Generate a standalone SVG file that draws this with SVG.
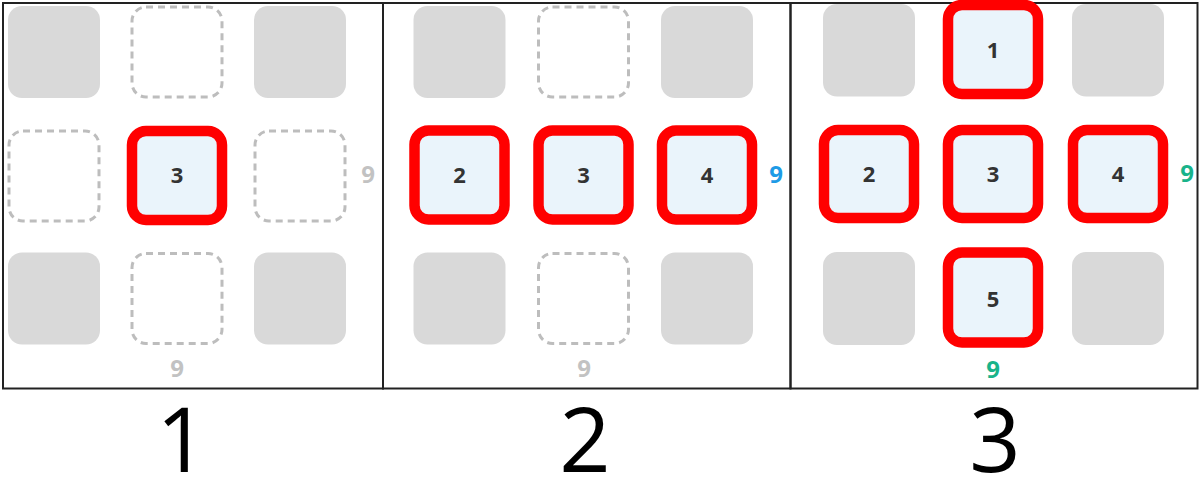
<svg xmlns="http://www.w3.org/2000/svg" width="1200" height="477" viewBox="0 0 1200 477">
<style>
.g{fill:#d9d9d9}
.d{fill:#fff;stroke:#bdbdbd;stroke-width:3;stroke-dasharray:7 5}
.s{fill:#eaf4fb;stroke:#ff0000;stroke-width:10.5}
.n{font-family:"Open Sans","Noto Sans",sans-serif;font-weight:700;font-size:22px;fill:#333;text-anchor:middle}
.c{font-family:"Open Sans","Noto Sans",sans-serif;font-weight:700;font-size:24px;text-anchor:middle}
.big{font-family:"Open Sans","Noto Sans",sans-serif;font-size:90px;fill:#000;text-anchor:middle}
.frame{fill:none;stroke:#222;stroke-width:2}
</style>
<rect width="1200" height="477" fill="#fff"/>
<g id="frames">
<rect class="frame" x="3" y="3" width="380" height="385.5"/>
<rect class="frame" x="383" y="3" width="407.5" height="385.5"/>
<rect class="frame" x="790.5" y="3" width="407" height="385.5"/>
</g>
<g id="panel1">
<rect class="g" x="8" y="6" width="92" height="92" rx="14"/>
<rect class="d" x="132" y="7" width="90" height="90" rx="14"/>
<rect class="g" x="254" y="6" width="92" height="92" rx="14"/>
<rect class="d" x="9" y="131" width="90" height="90" rx="14"/>
<rect class="s" x="132" y="131" width="90" height="89" rx="14"/>
<text class="n" x="177" y="183.3">3</text>
<rect class="d" x="255" y="131" width="90" height="90" rx="14"/>
<rect class="g" x="8" y="252.5" width="92" height="92" rx="14"/>
<rect class="d" x="132" y="253.5" width="90" height="90" rx="14"/>
<rect class="g" x="254" y="252.5" width="92" height="92" rx="14"/>
<text class="c" x="368" y="183.3" fill="#c2c2c2">9</text>
<text class="c" x="177" y="376.7" fill="#c2c2c2">9</text>
<text class="big" x="182" y="472">1</text>
</g>
<g id="panel2">
<rect class="g" x="413.5" y="6" width="92" height="92" rx="14"/>
<rect class="d" x="538.5" y="7" width="90" height="90" rx="14"/>
<rect class="g" x="661" y="6" width="92" height="92" rx="14"/>
<rect class="s" x="414.5" y="130.5" width="90" height="89" rx="14"/>
<text class="n" x="459.5" y="183.3">2</text>
<rect class="s" x="538.5" y="130.5" width="90" height="89" rx="14"/>
<text class="n" x="583.5" y="183.3">3</text>
<rect class="s" x="662" y="130.5" width="90" height="89" rx="14"/>
<text class="n" x="707" y="183.3">4</text>
<rect class="g" x="413.5" y="252.5" width="92" height="92" rx="14"/>
<rect class="d" x="538.5" y="253.5" width="90" height="90" rx="14"/>
<rect class="g" x="661" y="252.5" width="92" height="92" rx="14"/>
<text class="c" x="776" y="183.3" fill="#1e9be6">9</text>
<text class="c" x="584" y="376.7" fill="#c2c2c2">9</text>
<text class="big" x="585" y="472">2</text>
</g>
<g id="panel3">
<rect class="g" x="823" y="4" width="92" height="92.5" rx="14"/>
<rect class="s" x="948" y="5" width="90" height="89" rx="14"/>
<text class="n" x="993" y="58">1</text>
<rect class="g" x="1072" y="4" width="92" height="92.5" rx="14"/>
<rect class="s" x="824" y="130" width="90" height="88" rx="14"/>
<text class="n" x="869" y="182">2</text>
<rect class="s" x="948" y="130" width="90" height="88" rx="14"/>
<text class="n" x="993" y="182">3</text>
<rect class="s" x="1073" y="130" width="90" height="88" rx="14"/>
<text class="n" x="1118" y="182">4</text>
<rect class="g" x="823" y="252" width="92" height="93" rx="14"/>
<rect class="s" x="948" y="252.5" width="90" height="90" rx="14"/>
<text class="n" x="993" y="307">5</text>
<rect class="g" x="1072" y="252" width="92" height="93" rx="14"/>
<text class="c" x="1187" y="182" fill="#19b38a">9</text>
<text class="c" x="993" y="378" fill="#19b38a">9</text>
<text class="big" x="995" y="472">3</text>
</g>
</svg>
